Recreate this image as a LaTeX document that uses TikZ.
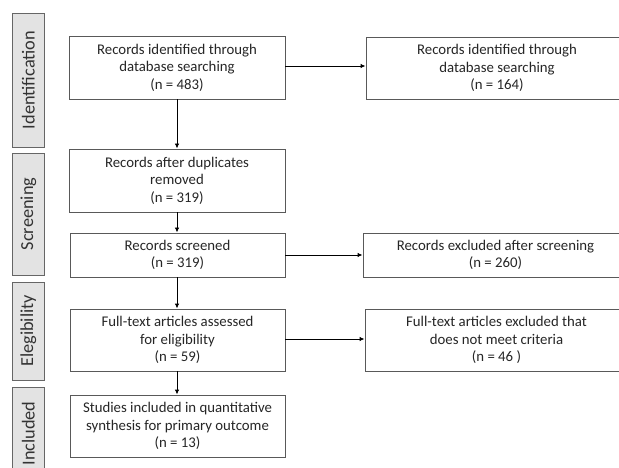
\documentclass[tikz,border=0pt]{standalone}
\usepackage{fontspec}
\setmainfont{Carlito}
\usetikzlibrary{arrows.meta}
\begin{document}
\begin{tikzpicture}[x=1pt,y=-1pt,
  box/.style={draw=black!65,line width=0.9pt,fill=white,align=center,inner sep=0pt,
    font=\fontsize{14.8}{17.6}\selectfont,text=black!85},
  side/.style={draw=black!60,line width=0.9pt,fill=black!11,inner sep=0pt,
    minimum width=31.5pt,text=black!80,font=\fontsize{18.3}{20}\selectfont},
  arr/.style={line width=0.9pt,-{Latex[length=5pt,width=4.5pt]}}]
\useasboundingbox (0,0) rectangle (619,468);
\begin{scope}
\clip (0,0) rectangle (619,468);
% side labels
\node[side,minimum height=134pt] (s1) at (28.3,80) {\rotatebox{90}{Identification}};
\node[side,minimum height=122pt] (s2) at (28.3,214) {\rotatebox{90}{Screening}};
\node[side,minimum height=98pt] (s3) at (28.3,331) {\rotatebox{90}{Elegibility}};
\node[side,minimum height=93pt] (s4) at (28.3,433.5) {\rotatebox{90}{Included}};
% main boxes
\node[box,minimum width=216pt,minimum height=63pt] (b1) at (177,67.5) {Records identified through\\database searching\\(n = 483)};
\node[box,minimum width=216pt,minimum height=63pt] (b2) at (177,180.5) {Records after duplicates\\removed\\(n = 319)};
\node[box,minimum width=215pt,minimum height=44pt] (b3) at (177.5,255) {Records screened\\(n = 319)};
\node[box,minimum width=215pt,minimum height=62pt] (b4) at (177.5,340) {Full-text articles assessed\\for eligibility\\(n = 59)};
\node[box,minimum width=215pt,minimum height=62pt] (b5) at (177.5,426) {Studies included in quantitative\\synthesis for primary outcome\\(n = 13)};
% right boxes
\node[box,minimum width=262pt,minimum height=62pt] (r1) at (497,68) {Records identified through\\database searching\\(n = 164)};
\node[box,minimum width=265pt,minimum height=44pt] (r2) at (495.5,255) {Records excluded after screening\\(n = 260)};
\node[box,minimum width=263pt,minimum height=62pt] (r3) at (496.5,340) {Full-text articles excluded that\\does not meet criteria\\(n = 46 )};
\end{scope}
% arrows
\draw[arr] (b1.south -| 177,0) -- (b2.north -| 177,0);
\draw[arr] (b2.south -| 177,0) -- (b3.north -| 177,0);
\draw[arr] (b3.south -| 177,0) -- (b4.north -| 177,0);
\draw[arr] (b4.south -| 177,0) -- (b5.north -| 177,0);
\draw[arr] (b1.east |- 0,66) -- (r1.west |- 0,66);
\draw[arr] (b3.east) -- (r2.west);
\draw[arr] (b4.east |- 0,339) -- (r3.west |- 0,339);
\end{tikzpicture}
\end{document}
